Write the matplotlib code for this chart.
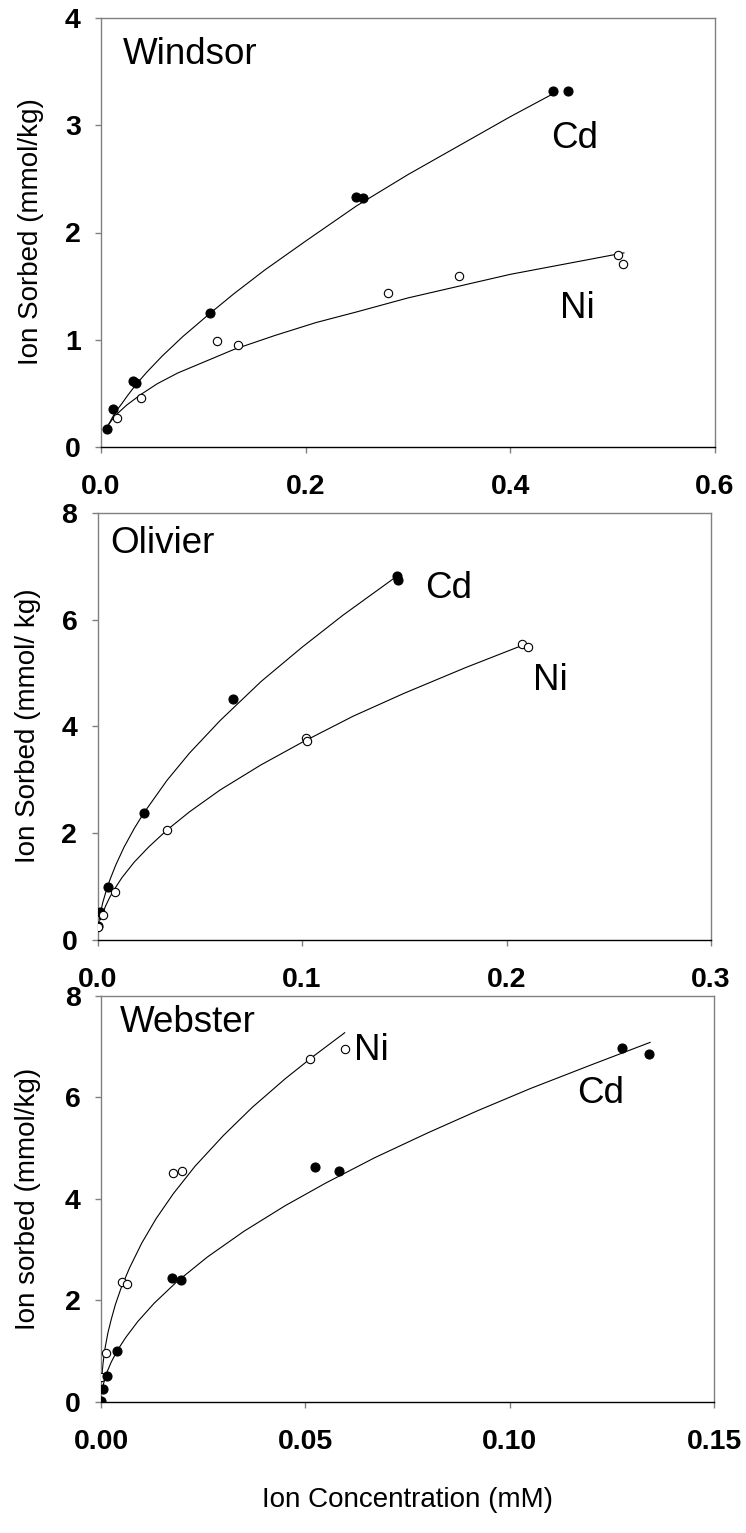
import matplotlib
matplotlib.use('Agg')
import matplotlib.pyplot as plt

plt.rcParams['font.family'] = ['Liberation Sans', 'DejaVu Sans']

# ---- Windsor ----
win_cd_x = [0.0056, 0.012, 0.0316, 0.034, 0.1066, 0.249, 0.256, 0.442, 0.456]
win_cd_y = [0.17, 0.35, 0.62, 0.60, 1.25, 2.33, 2.32, 3.32, 3.32]
win_ni_x = [0.0153, 0.0388, 0.1138, 0.1337, 0.2807, 0.350, 0.505, 0.510]
win_ni_y = [0.27, 0.46, 0.99, 0.95, 1.44, 1.59, 1.79, 1.71]
# fitted curves
win_cd_fit_x = [0.005, 0.008, 0.012, 0.016, 0.02, 0.026, 0.034, 0.045, 0.06, 0.08,
                0.107, 0.13, 0.16, 0.2, 0.25, 0.3, 0.35, 0.4, 0.445]
win_cd_fit_y = [0.16, 0.22, 0.29, 0.35, 0.40, 0.48, 0.58, 0.70, 0.85, 1.03,
                1.25, 1.43, 1.65, 1.92, 2.25, 2.54, 2.81, 3.08, 3.31]
win_ni_fit_x = [0.006, 0.009, 0.012, 0.017, 0.025, 0.039, 0.055, 0.075, 0.1, 0.13,
                0.17, 0.21, 0.25, 0.3, 0.35, 0.4, 0.45, 0.511]
win_ni_fit_y = [0.19, 0.23, 0.27, 0.32, 0.39, 0.49, 0.59, 0.69, 0.79, 0.91,
                1.04, 1.16, 1.26, 1.39, 1.50, 1.61, 1.70, 1.81]

# ---- Olivier ----
oli_cd_x = [0.0004, 0.0012, 0.0053, 0.0227, 0.0664, 0.1463, 0.1470]
oli_cd_y = [0.26, 0.53, 1.00, 2.38, 4.51, 6.82, 6.74]
oli_ni_x = [0.0004, 0.0028, 0.0086, 0.034, 0.1018, 0.1025, 0.2077, 0.2107]
oli_ni_y = [0.25, 0.47, 0.89, 2.06, 3.78, 3.72, 5.54, 5.48]
oli_cd_fit_x = [0.0005, 0.001, 0.0015, 0.0025, 0.004, 0.006, 0.009, 0.013, 0.018,
                0.0227, 0.034, 0.045, 0.06, 0.08, 0.1, 0.12, 0.146]
oli_cd_fit_y = [0.28, 0.41, 0.51, 0.69, 0.89, 1.12, 1.41, 1.74, 2.09,
                2.38, 2.99, 3.50, 4.11, 4.84, 5.48, 6.08, 6.80]
oli_ni_fit_x = [0.0015, 0.0025, 0.004, 0.006, 0.0086, 0.012, 0.018, 0.025, 0.034,
                0.045, 0.06, 0.08, 0.1, 0.125, 0.15, 0.18, 0.208]
oli_ni_fit_y = [0.38, 0.50, 0.64, 0.80, 0.97, 1.17, 1.46, 1.74, 2.06,
                2.40, 2.81, 3.28, 3.70, 4.19, 4.62, 5.10, 5.52]

# ---- Webster ----
web_ni_x = [0.0, 0.0012, 0.0051, 0.0063, 0.0177, 0.0199, 0.0512, 0.0596]
web_ni_y = [0.49, 0.95, 2.35, 2.32, 4.51, 4.55, 6.75, 6.95]
web_cd_x = [0.0, 0.0004, 0.0014, 0.0038, 0.0173, 0.0195, 0.0523, 0.0582, 0.1274, 0.1341]
web_cd_y = [0.02, 0.26, 0.51, 1.00, 2.43, 2.40, 4.63, 4.55, 6.96, 6.86]
web_ni_fit_x = [0.0002, 0.0005, 0.001, 0.0017, 0.0025, 0.0035, 0.005, 0.007, 0.01,
                0.0135, 0.0177, 0.023, 0.03, 0.037, 0.045, 0.052, 0.0596]
web_ni_fit_y = [0.49, 0.76, 1.06, 1.36, 1.62, 1.91, 2.26, 2.64, 3.13,
                3.61, 4.10, 4.64, 5.25, 5.80, 6.36, 6.81, 7.27]
web_cd_fit_x = [0.0004, 0.0008, 0.0015, 0.0025, 0.004, 0.006, 0.009, 0.013, 0.0185,
                0.026, 0.035, 0.045, 0.055, 0.067, 0.08, 0.092, 0.105, 0.12, 0.1343]
web_cd_fit_y = [0.28, 0.41, 0.59, 0.78, 1.01, 1.26, 1.58, 1.94, 2.36,
                2.85, 3.36, 3.86, 4.31, 4.81, 5.30, 5.73, 6.17, 6.64, 7.08]

W, H = 746, 1533
fig = plt.figure(figsize=(W / 100, H / 100), dpi=100)


def axes_px(left, right, top, bottom):
    return fig.add_axes([left / W, (H - bottom) / H, (right - left) / W, (bottom - top) / H])


def style_axes(ax, xlim, xticks, xfmt, ylim, yticks):
    ax.set_xlim(*xlim)
    ax.set_ylim(*ylim)
    ax.set_xticks(xticks)
    ax.set_xticklabels([xfmt.format(v) for v in xticks])
    ax.set_yticks(yticks)
    ax.set_yticklabels([str(v) for v in yticks])
    for side in ['left', 'top', 'right']:
        ax.spines[side].set_color('#808080')
        ax.spines[side].set_linewidth(1.0)
    ax.spines['bottom'].set_color('black')
    ax.spines['bottom'].set_linewidth(1.0)
    ax.tick_params(axis='both', direction='out', length=4.5, width=1.0, color='#808080',
                   labelsize=20.5)
    ax.tick_params(axis='y', pad=10)
    ax.tick_params(axis='x', pad=15)
    for lab in ax.get_xticklabels() + ax.get_yticklabels():
        lab.set_fontweight('bold')


def draw_series(ax, fx, fy, px, py, filled):
    ax.plot(fx, fy, color='black', lw=0.8, zorder=2)
    if filled:
        ax.plot(px, py, 'o', ms=6.5, mfc='black', mec='black', mew=0.8, zorder=3)
    else:
        ax.plot(px, py, 'o', ms=6, mfc='white', mec='black', mew=0.8, zorder=3)


# Windsor
ax1 = axes_px(101, 715, 18, 447)
draw_series(ax1, win_cd_fit_x, win_cd_fit_y, win_cd_x, win_cd_y, True)
draw_series(ax1, win_ni_fit_x, win_ni_fit_y, win_ni_x, win_ni_y, False)
style_axes(ax1, (0, 0.6), [0.0, 0.2, 0.4, 0.6], '{:.1f}', (0, 4), [0, 1, 2, 3, 4])
ax1.text(0.0215, 3.66, 'Windsor', fontsize=26.5, va='center', ha='left')
ax1.text(0.440, 2.88, 'Cd', fontsize=26.5, va='center', ha='left')
ax1.text(0.449, 1.29, 'Ni', fontsize=26.5, va='center', ha='left')
fig.text(31 / W, 1 - 232 / H, 'Ion Sorbed (mmol/kg)', rotation=90, fontsize=20,
         ha='center', va='center')

# Olivier
ax2 = axes_px(97.5, 711, 512.7, 940)
draw_series(ax2, oli_cd_fit_x, oli_cd_fit_y, oli_cd_x, oli_cd_y, True)
draw_series(ax2, oli_ni_fit_x, oli_ni_fit_y, oli_ni_x, oli_ni_y, False)
style_axes(ax2, (0, 0.3), [0.0, 0.1, 0.2, 0.3], '{:.1f}', (0, 8), [0, 2, 4, 6, 8])
ax2.text(0.006, 7.42, 'Olivier', fontsize=26.5, va='center', ha='left')
ax2.text(0.160, 6.58, 'Cd', fontsize=26.5, va='center', ha='left')
ax2.text(0.213, 4.85, 'Ni', fontsize=26.5, va='center', ha='left')
fig.text(28 / W, 1 - 726 / H, 'Ion Sorbed (mmol/ kg)', rotation=90, fontsize=20,
         ha='center', va='center')

# Webster
ax3 = axes_px(101, 714.3, 995.7, 1401.7)
draw_series(ax3, web_ni_fit_x, web_ni_fit_y, web_ni_x, web_ni_y, False)
draw_series(ax3, web_cd_fit_x, web_cd_fit_y, web_cd_x, web_cd_y, True)
style_axes(ax3, (0, 0.15), [0.00, 0.05, 0.10, 0.15], '{:.2f}', (0, 8), [0, 2, 4, 6, 8])
ax3.text(0.0046, 7.48, 'Webster', fontsize=26.5, va='center', ha='left')
ax3.text(0.0620, 6.93, 'Ni', fontsize=26.5, va='center', ha='left')
ax3.text(0.1165, 6.08, 'Cd', fontsize=26.5, va='center', ha='left')
fig.text(28 / W, 1 - 1199 / H, 'Ion sorbed (mmol/kg)', rotation=90, fontsize=20,
         ha='center', va='center')
fig.text(407.5 / W, 1 - 1500 / H, 'Ion Concentration (mM)', fontsize=20,
         ha='center', va='center')

fig.savefig('out.png', dpi=100)
